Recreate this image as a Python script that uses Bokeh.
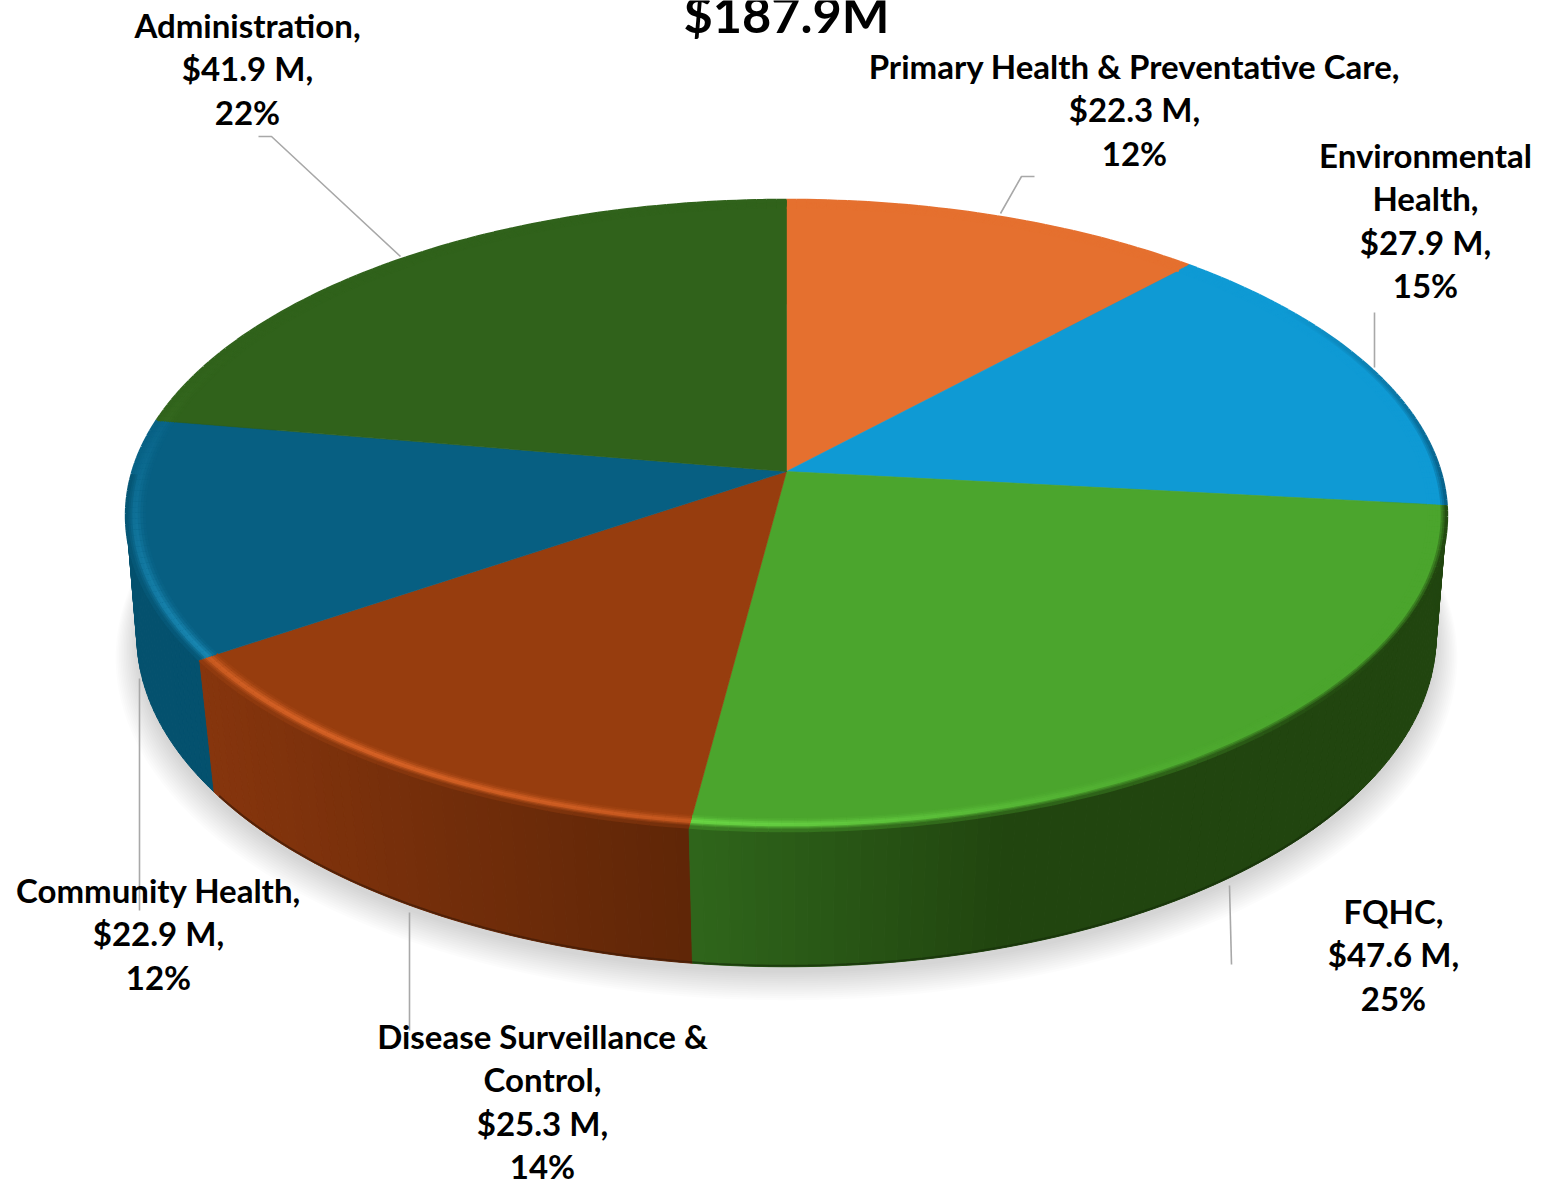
import math
from bokeh.plotting import figure
from bokeh.models import Range1d
from bokeh.core.properties import value
from bokeh.embed import file_html
from bokeh.resources import INLINE

# ---- data ----
title_text = "$187.9M"
categories = ["Primary Health & Preventative Care", "Environmental Health", "FQHC",
              "Disease Surveillance & Control", "Community Health", "Administration"]
amounts = [22.3, 27.9, 47.6, 25.3, 22.9, 41.9]
percents = [12, 15, 25, 14, 12, 22]
label_lines = [
    ["Primary Health & Preventative Care,", "$22.3 M,", "12%"],
    ["Environmental", "Health,", "$27.9 M,", "15%"],
    ["FQHC,", "$47.6 M,", "25%"],
    ["Disease Surveillance &", "Control,", "$25.3 M,", "14%"],
    ["Community Health,", "$22.9 M,", "12%"],
    ["Administration,", "$41.9 M,", "22%"],
]
top_colors = ["#E5702F", "#0F9AD4", "#4BA52D", "#973D0E", "#075F82", "#30621B"]
side_left = ["#B3551F", "#075A80", "#2F661B", "#86350D", "#04516E", "#224712"]
side_right = ["#B3551F", "#075A80", "#21450F", "#5F2607", "#04516E", "#224712"]
side_flat_at = [1, 1, 0.42, 1, 1, 1]

# ---- layout ----
label_x = [1134, 1425, 1393, 542, 158, 247]
label_base = [79.5, 168.5, 924.5, 1049.5, 903.5, 38.5]
line_gap = 43.4
LABEL_PX, TITLE_PX = 33, 50.5
BASE_SHIFT = 0.43
TITLE_BASE = 34.5
leader_xs = [[1034, 1021, 1000], [1374, 1374], [1229, 1231], [409, 409], [139, 139], [258, 271, 400]]
leader_ys = [[176, 176, 213], [312, 367], [885, 964], [912, 1030], [678, 910], [136, 136, 256]]
CX, CY, R, A, K = 786, 471, 653.5, 308.9, 0.1397
RB, AB, KB, YB = 645, 326.7, 0.12, 595
W, H = 1541, 1181


def top_pt(th, r=1.0):
    u, v = r * math.sin(th), r * math.cos(th)
    s = 1 / (1 + K * v)
    return CX + R * u * s, CY - A * v * s


def bot_pt(th, r=1.0, dy=0.0):
    u, v = r * math.sin(th), r * math.cos(th)
    s = 1 / (1 + KB * v)
    return CX + RB * u * s, YB + dy - AB * v * s


def hex2rgb(c):
    return [int(c[i:i + 2], 16) for i in (1, 3, 5)]


def mix(a, b, t):
    t = max(0.0, min(1.0, t))
    ra, rb = hex2rgb(a), hex2rgb(b)
    return "#%02x%02x%02x" % tuple(round(x + (y - x) * t) for x, y in zip(ra, rb))


def brighten(c):
    return "#%02x%02x%02x" % tuple(min(255, round(x * 1.3 + 20)) for x in hex2rgb(c))


total = sum(amounts)
edges = [0.0]
for a in amounts:
    edges.append(edges[-1] + a / total * 2 * math.pi)

p = figure(width=W, height=H, x_range=Range1d(0, W), y_range=Range1d(H, 0),
           toolbar_location=None, output_backend="svg", min_border=0,
           outline_line_color=None, background_fill_color="white")
p.axis.visible = False
p.grid.visible = False
p.styles = {"position": "absolute", "left": "0", "top": "0"}

# soft shadow beneath the disc
n_shadow = 14
ths = [i / 180 * 2 * math.pi for i in range(181)]
for i in range(n_shadow):
    grow = 1.032 - 0.032 * i / (n_shadow - 1)
    dy = 20 - 20 * (i / (n_shadow - 1)) * 0.7
    pts = [bot_pt(t, grow, dy) for t in ths]
    p.patch([q[0] for q in pts], [q[1] for q in pts], fill_color="#808080",
            fill_alpha=0.022, line_color=None)


def side_shade(i, tm, xl, xr):
    f = (top_pt(tm)[0] - xl) / max(1, xr - xl)
    return mix(side_left[i], side_right[i], f / side_flat_at[i])


# side wall, back to front
quads = []
extents = []
for i, col in enumerate(top_colors):
    a0, a1 = edges[i], edges[i + 1]
    steps = max(2, int((a1 - a0) / math.radians(1.0)))
    xl = min(top_pt(a0)[0], top_pt(a1)[0])
    xr = max(top_pt(a0)[0], top_pt(a1)[0])
    extents.append((xl, xr))
    for j in range(steps):
        t0 = a0 + (a1 - a0) * j / steps
        t1 = a0 + (a1 - a0) * (j + 1) / steps
        tm = (t0 + t1) / 2
        c = side_shade(i, tm, xl, xr)
        a, b, c2, d = top_pt(t0), top_pt(t1), bot_pt(t1), bot_pt(t0)
        quads.append((math.cos(tm), [a[0], b[0], c2[0], d[0]], [a[1], b[1], c2[1], d[1]], c))
quads.sort(key=lambda q: -q[0])
p.patches([q[1] for q in quads], [q[2] for q in quads], fill_color=[q[3] for q in quads],
          line_color=[q[3] for q in quads], line_width=1)

# bottom rim darkening along the front only
front_lo, front_hi = math.radians(125), math.radians(235)
for i, col in enumerate(side_right):
    a0, a1 = max(edges[i], front_lo), min(edges[i + 1], front_hi)
    if a1 <= a0:
        continue
    steps = max(2, int((a1 - a0) / math.radians(1.0)))
    pts = [bot_pt(a0 + (a1 - a0) * j / steps) for j in range(steps + 1)]
    p.line([q[0] for q in pts], [q[1] - 1.0 for q in pts], line_color=mix(col, "#000000", 0.3),
           line_width=2, line_alpha=0.7)

# top wedges
for i, col in enumerate(top_colors):
    a0, a1 = edges[i], edges[i + 1]
    steps = max(2, int((a1 - a0) / math.radians(0.5)))
    pts = [top_pt(a0 + (a1 - a0) * j / steps) for j in range(steps + 1)]
    p.patch([CX] + [q[0] for q in pts], [CY] + [q[1] for q in pts],
            fill_color=col, line_color=col, line_width=0.6)

# bevel on the rim: highlight towards front-left, dark towards the right
bands = [(0.974, 0.12), (0.978, 0.35), (0.982, 0.7), (0.986, 1.0), (0.990, 0.9), (0.994, 0.7), (0.997, 0.5), (1.0, 0.3)]
for i, col in enumerate(top_colors):
    a0, a1 = edges[i], edges[i + 1]
    steps = max(2, int((a1 - a0) / math.radians(1.0)))
    xl, xr = extents[i]
    hi = brighten(col)
    xs, ys, cs = [], [], []
    for rr, w in bands:
        for j in range(steps):
            t0 = a0 + (a1 - a0) * j / steps
            t1 = a0 + (a1 - a0) * (j + 1) / steps
            tm = (t0 + t1) / 2
            light = max(0.0, math.cos(tm - math.radians(215))) ** 2.5
            dark = max(0.0, (math.cos(tm - math.radians(115)) - 0.5) * 2)
            if math.cos(tm) < 0:
                dark = max(dark, 0.7)
            c = mix(col, hi, 0.95 * light * w)
            c = mix(c, side_shade(i, tm, xl, xr), dark * max(0.0, rr - 0.990) / 0.010)
            q0, q1 = top_pt(t0, rr), top_pt(t1, rr)
            xs.append([q0[0], q1[0]])
            ys.append([q0[1], q1[1]])
            cs.append(c)
    p.multi_line(xs, ys, line_color=cs, line_width=3.5, line_cap="butt")

# leader lines
p.multi_line(leader_xs, leader_ys, line_color="#A8A8A8", line_width=1.6)

# labels
FONT = value("Lato")
for i, lines in enumerate(label_lines):
    p.text([label_x[i]] * len(lines),
           [label_base[i] - BASE_SHIFT * LABEL_PX + k * line_gap for k in range(len(lines))],
           text=lines, text_font=FONT, text_font_style="bold", text_font_size=f"{LABEL_PX}px",
           text_color="#000000", text_align="center", text_baseline="alphabetic")
p.text([CX], [TITLE_BASE - BASE_SHIFT * TITLE_PX], text=[title_text], text_font=FONT, text_font_style="bold",
       text_font_size=f"{TITLE_PX}px", text_color="#000000", text_align="center", text_baseline="alphabetic")

open("out.html", "w").write(file_html(p, INLINE))
